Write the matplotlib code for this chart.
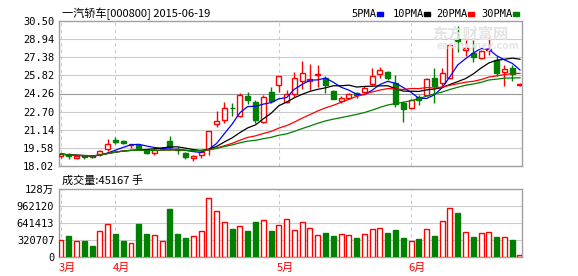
import matplotlib
matplotlib.use("Agg")
import matplotlib.pyplot as plt
import numpy as np
import pandas as pd

plt.rcParams['font.family'] = ['Noto Sans CJK SC', 'DejaVu Sans']

#### DATA

opens = [18.85, 19.05, 18.73, 18.94, 18.88, 19.05, 19.46, 20.23, 20.15, 19.87,
         19.80, 19.40, 19.18, 19.46, 20.20, 19.50, 19.10, 18.68, 18.97, 19.45,
         21.61, 21.98, 23.02, 22.32, 24.04, 23.53, 21.78, 24.42, 24.99, 23.55,
         24.22, 25.36, 25.36, 25.82, 25.62, 24.48, 23.61, 23.85, 24.33, 24.42,
         25.05, 25.91, 26.09, 25.16, 23.42, 22.99, 23.93, 24.13, 25.57, 25.14,
         25.57, 28.94, 28.00, 27.77, 27.29, 28.00, 27.14, 26.09, 26.48, 25.00]
highs = [19.10, 19.12, 18.95, 19.00, 18.97, 19.40, 20.34, 20.50, 20.26, 19.92,
         19.91, 19.50, 19.55, 19.65, 20.63, 19.68, 19.20, 18.95, 19.45, 21.05,
         22.78, 23.55, 23.47, 24.33, 24.40, 23.70, 24.10, 24.85, 25.77, 24.56,
         26.14, 27.06, 26.77, 26.71, 25.77, 24.55, 24.02, 24.30, 24.39, 24.88,
         26.43, 26.57, 26.20, 25.85, 23.61, 23.80, 24.13, 25.60, 26.43, 26.43,
         28.43, 30.10, 28.87, 28.86, 28.00, 29.00, 27.45, 26.71, 26.71, 25.20]
lows = [18.75, 18.62, 18.62, 18.60, 18.67, 18.88, 19.35, 19.89, 19.89, 19.60,
        19.40, 19.05, 19.00, 19.45, 19.40, 19.05, 18.60, 18.42, 18.72, 18.95,
        21.35, 21.70, 22.32, 22.26, 23.36, 21.75, 21.70, 23.44, 24.42, 23.42,
        23.98, 24.65, 24.56, 24.85, 24.33, 23.75, 23.44, 23.80, 23.85, 24.28,
        24.99, 25.57, 25.45, 23.10, 21.78, 22.90, 23.27, 24.06, 23.42, 24.85,
        25.50, 27.86, 27.45, 26.97, 27.20, 27.57, 25.80, 24.90, 25.30, 24.90]
closes = [19.05, 18.90, 18.88, 18.82, 18.77, 19.34, 19.91, 20.06, 20.03, 19.90,
          19.54, 19.17, 19.42, 19.60, 19.65, 19.42, 18.77, 18.85, 19.25, 21.03,
          21.89, 22.99, 22.98, 24.13, 23.70, 21.98, 23.93, 23.64, 25.77, 24.22,
          25.57, 26.00, 25.48, 25.90, 24.97, 23.81, 23.85, 24.22, 24.13, 24.76,
          25.77, 26.28, 25.57, 23.36, 22.90, 23.70, 23.70, 25.51, 24.93, 26.00,
          28.43, 28.74, 28.15, 27.43, 27.92, 28.07, 26.00, 26.37, 25.94, 25.05]
volumes = [327000, 402000, 308000, 308000, 214000, 497000, 629000, 446000, 308000, 270000,
           635000, 446000, 415000, 308000, 912000, 446000, 365000, 396000, 497000, 1119000,
           874000, 667000, 535000, 591000, 497000, 667000, 704000, 497000, 610000, 723000,
           509000, 660000, 547000, 415000, 459000, 402000, 434000, 415000, 365000, 434000,
           528000, 547000, 459000, 516000, 365000, 302000, 346000, 528000, 402000, 679000,
           924000, 836000, 472000, 384000, 453000, 472000, 384000, 377000, 327000, 45167]

month_labels = ["3月", "4月", "5月", "6月"]
month_starts = [0, 7, 28, 45]
price_ticks = [18.02, 19.58, 21.14, 22.70, 24.26, 25.82, 27.38, 28.94, 30.50]
vol_ticks = [0, 320707, 641413, 962120, 1282828]
vol_tick_labels = ["0", "320707", "641413", "962120", "128万"]
ma_periods = [5, 10, 20, 30]
ma_colors = ['#0000ff', '#000000', '#ff0000', '#008000']

W, H = 578, 276
RED = '#ff0000'
GREEN = '#008000'
GRID = '#cccccc'
FRAME = '#a0a0a0'
MONO = ['DejaVu Sans Mono', 'Noto Sans CJK SC']

fig = plt.figure(figsize=(W / 100, H / 100), dpi=100)

def fx(px):
    return px / W

def fy(py):
    return 1 - py / H

ax = fig.add_axes([fx(58.5), fy(166), (522.3 - 58.5) / W, (166 - 21) / H])
axv = fig.add_axes([fx(58.5), fy(257.3), (522.3 - 58.5) / W, (257.3 - 189.3) / H])

x = np.arange(len(closes))
o = np.array(opens)
c = np.array(closes)
up = c >= o

# candles
body_w = 0.64
for i in x:
    col = RED if up[i] else GREEN
    ax.vlines(i, lows[i], highs[i], color=col, lw=1.0, zorder=3)
    lo, hi = min(o[i], c[i]), max(o[i], c[i])
    h = max(hi - lo, 0.02)
    if up[i]:
        ax.bar(i, h, bottom=lo, width=body_w, facecolor='white', edgecolor=col, lw=1.0, zorder=4)
    else:
        ax.bar(i, h, bottom=lo, width=body_w, facecolor=col, edgecolor=col, lw=1.0, zorder=4)

# moving averages
s = pd.Series(closes)
for p, col in zip(ma_periods, ma_colors):
    ax.plot(x, s.rolling(p, min_periods=1).mean(), color=col, lw=0.9, zorder=5)

ax.set_xlim(-0.32, 59.3)
ax.set_ylim(price_ticks[0], price_ticks[-1])
ax.set_yticks(price_ticks)
ax.set_yticklabels(["%.2f" % t for t in price_ticks], family=MONO, fontsize=7.5)
ax.set_xticks([])
for t in price_ticks[1:-1]:
    ax.axhline(t, color='#999999' if t == 24.26 else GRID, lw=0.8, zorder=1)
for m in month_starts:
    ax.axvline(m, color=GRID, lw=0.8, ls=(0, (3, 3)), zorder=1)

# volume
for i in x:
    col = RED if up[i] else GREEN
    axv.bar(i, volumes[i], width=body_w, facecolor='white' if up[i] else col,
            edgecolor=col, lw=1.0, zorder=3)
axv.set_xlim(-0.32, 59.3)
axv.set_ylim(0, vol_ticks[-1])
axv.set_yticks(vol_ticks)
axv.set_yticklabels(vol_tick_labels, family=MONO, fontsize=7.5)
axv.set_xticks([])
for t in vol_ticks[1:-1]:
    axv.axhline(t, color=GRID, lw=0.8, zorder=1)
for m, lab in zip(month_starts, month_labels):
    axv.axvline(m, color=GRID, lw=0.8, ls=(0, (3, 3)), zorder=1)
    axv.text(m - 0.3, -0.16, lab, color=RED, fontsize=8, ha='left', va='center',
             transform=axv.get_xaxis_transform())

for a in (ax, axv):
    a.tick_params(length=0, pad=3, colors='black')
    for sp in a.spines.values():
        sp.set_color(FRAME)
        sp.set_linewidth(1.0)

# texts
fig.text(fx(62), fy(14), "一汽轿车[000800] 2015-06-19", family=['Noto Sans CJK SC', 'DejaVu Sans'],
         fontsize=8, va='center', ha='left')
fig.text(fx(62), fy(180), "成交量:45167 手", fontsize=8, va='center', ha='left')

legend_x = [351.7, 392.7, 436.7, 481.7]
for lx, p, col in zip(legend_x, ma_periods, ma_colors):
    fig.text(fx(lx), fy(14), "%dPMA" % p, family=MONO, fontsize=7.5, va='center', ha='left')
    box_x = lx + (25 if p < 10 else 31.5)
    fig.patches.append(plt.Rectangle((fx(box_x), fy(15.5)), 6 / W, 3 / H, color=col,
                                     transform=fig.transFigure, figure=fig))

# watermark
fig.text(fx(470), fy(34), "东方财富网", fontsize=11, weight='bold', color='#e4e4e4',
         ha='center', va='center', zorder=0)
fig.text(fx(478), fy(46), "eastmoney.com", fontsize=7.5, weight='bold', color='#e4e4e4',
         ha='center', va='center', zorder=0)

fig.savefig("out.png", dpi=100)
